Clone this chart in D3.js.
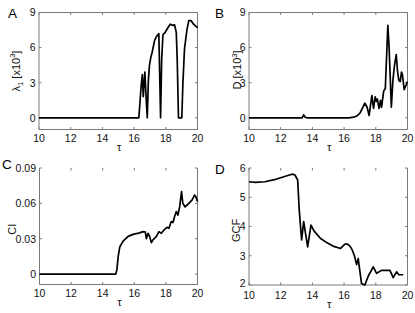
<!DOCTYPE html>
<html><head><meta charset="utf-8">
<script src="https://cdn.jsdelivr.net/npm/d3@7"></script>
<style>body{margin:0;background:#fff}svg{display:block}text{font-family:"Liberation Sans",Arial,sans-serif}</style>
</head><body><svg id="c" width="415" height="313"></svg>
<script>
// ---- data ----
const xTicks = [10, 12, 14, 16, 18, 20];
const lambdaTau = [10, 16.30, 16.45, 16.52, 16.58, 16.68, 16.78, 16.83, 16.90, 16.97, 17.06, 17.14, 17.29, 17.39, 17.56, 17.61, 17.67, 17.74, 17.82, 17.96, 18.13, 18.28, 18.45, 18.55, 18.66, 18.72, 18.80, 19.01, 19.08, 19.18, 19.33, 19.45, 19.60, 19.75, 20.0];
const lambdaVal = [0, 0, 2.8, 3.7, 1.8, 3.9, 1.2, 0, 3.2, 4.5, 5.2, 5.6, 6.6, 6.9, 7.2, 4.0, 0, 5.0, 7.1, 7.3, 7.7, 8.0, 7.9, 7.95, 7.3, 5.0, 0, 0, 3.0, 5.9, 7.5, 8.3, 8.3, 8.0, 7.7];
const dTau = [10, 13.35, 13.45, 13.55, 13.65, 16.3, 16.6, 16.8, 17.0, 17.15, 17.31, 17.45, 17.58, 17.75, 17.86, 17.96, 18.04, 18.10, 18.20, 18.30, 18.36, 18.50, 18.60, 18.76, 18.84, 18.98, 19.08, 19.18, 19.29, 19.37, 19.45, 19.54, 19.62, 19.68, 19.79, 20.0];
const dVal = [0, 0, 0.25, 0.05, 0, 0, 0.05, 0.15, 0.4, 0.8, 1.25, 0.9, 0.2, 1.9, 0.8, 1.8, 1.4, 1.6, 0.8, 1.5, 0.9, 2.3, 2.5, 7.9, 6.0, 0.9, 3.2, 4.5, 5.4, 4.0, 3.2, 3.1, 3.9, 3.7, 2.4, 3.1];
const ciTau = [10, 14.83, 14.90, 14.98, 15.08, 15.29, 15.61, 15.92, 16.34, 16.55, 16.70, 16.76, 16.87, 16.97, 17.08, 17.18, 17.39, 17.56, 17.71, 17.92, 18.07, 18.19, 18.34, 18.45, 18.55, 18.66, 18.76, 18.87, 18.99, 19.07, 19.22, 19.45, 19.66, 19.81, 19.90, 20.0];
const ciVal = [0, 0, 0.004, 0.0148, 0.023, 0.028, 0.032, 0.0337, 0.035, 0.036, 0.0357, 0.030, 0.0346, 0.032, 0.0267, 0.029, 0.0318, 0.036, 0.0346, 0.038, 0.0397, 0.0389, 0.0446, 0.0438, 0.0488, 0.053, 0.05, 0.057, 0.07, 0.06, 0.057, 0.06, 0.063, 0.067, 0.0655, 0.0616];
const gcfTau = [10, 10.4, 11.0, 11.6, 12.2, 12.6, 12.75, 12.9, 13.07, 13.17, 13.32, 13.45, 13.70, 13.91, 14.1, 14.5, 14.9, 15.3, 15.78, 16.05, 16.22, 16.37, 16.51, 16.65, 16.79, 16.89, 17.10, 17.31, 17.52, 17.84, 18.05, 18.36, 18.89, 19.10, 19.31, 19.45, 19.73];
const gcfVal = [5.53, 5.51, 5.53, 5.6, 5.7, 5.77, 5.79, 5.76, 5.59, 4.56, 3.54, 4.17, 3.3, 4.05, 3.85, 3.6, 3.45, 3.33, 3.25, 3.4, 3.4, 3.33, 3.2, 3.0, 2.7, 2.9, 2.05, 2.0, 2.3, 2.62, 2.4, 2.5, 2.5, 2.25, 2.45, 2.35, 2.35];

const panels = [
  {letter: "A", tau: lambdaTau, val: lambdaVal, yDomain: [-1, 9], yTicks: [0, 3, 6, 9], fmt: d => d,
   box: {l: 39, r: 197.5, t: 12.5, b: 129.5}, top: true, ylab: "lambda", labX: 19.5, labDy: 0, xlDy: 0},
  {letter: "B", tau: dTau, val: dVal, yDomain: [-1, 9], yTicks: [0, 3, 6, 9], fmt: d => d,
   box: {l: 249, r: 407.5, t: 12.5, b: 129.5}, top: true, ylab: "D", labX: 241, labDy: -1, xlDy: 0},
  {letter: "C", tau: ciTau, val: ciVal, yDomain: [-0.0088, 0.09], yTicks: [0, 0.03, 0.06, 0.09], fmt: d => d === 0 ? "0" : d.toFixed(2),
   box: {l: 39.5, r: 197.5, t: 168, b: 284.5}, top: false, ylab: "CI", labX: 15.5, labDy: 3, xlDy: 0},
  {letter: "D", tau: gcfTau, val: gcfVal, yDomain: [2, 6], yTicks: [2, 3, 4, 5, 6], fmt: d => d,
   box: {l: 249, r: 407.5, t: 168, b: 285}, top: false, ylab: "GCF", labX: 240, labDy: 4, xlDy: 1.5}
];

const svg = d3.select("#c");
const axisCol = "#7a7a7a";

panels.forEach(p => {
  const B = p.box;
  const x = d3.scaleLinear().domain([10, 20]).range([B.l, B.r]);
  const y = d3.scaleLinear().domain(p.yDomain).range([B.b, B.t]);
  const g = svg.append("g");

  // box
  const bx = g.append("g").attr("fill", "none").attr("stroke", axisCol).attr("stroke-width", 1);
  bx.append("line").attr("x1", B.l).attr("x2", B.l).attr("y1", B.t).attr("y2", B.b);
  bx.append("line").attr("x1", B.r).attr("x2", B.r).attr("y1", B.t).attr("y2", B.b);
  bx.append("line").attr("x1", B.l).attr("x2", B.r).attr("y1", B.b).attr("y2", B.b);
  if (p.top) bx.append("line").attr("x1", B.l).attr("x2", B.r).attr("y1", B.t).attr("y2", B.t);

  // ticks (inward, all four sides)
  xTicks.forEach(t => {
    const xx = x(t);
    bx.append("line").attr("x1", xx).attr("x2", xx).attr("y1", B.b).attr("y2", B.b - 2.5);
    bx.append("line").attr("x1", xx).attr("x2", xx).attr("y1", B.t).attr("y2", B.t + 2.5);
    g.append("text").attr("x", xx).attr("y", B.b + 12 + p.xlDy).attr("text-anchor", "middle")
      .attr("font-size", 10.5).attr("fill", "#111").text(t);
  });
  p.yTicks.forEach((t, i) => {
    const yy = y(t);
    bx.append("line").attr("x1", B.l).attr("x2", B.l + 2.5).attr("y1", yy).attr("y2", yy);
    bx.append("line").attr("x1", B.r).attr("x2", B.r - 2.5).attr("y1", yy).attr("y2", yy);
    const lift = (p.letter === "D" && i === 0) ? -1.5 : 0;
    g.append("text").attr("x", B.l - 3.5).attr("y", yy + 3.8 + lift).attr("text-anchor", "end")
      .attr("font-size", 10.5).attr("fill", "#111").text(p.fmt(t));
  });

  // line
  const pts = p.tau.map((t, i) => [t, p.val[i]]);
  g.append("path").datum(pts)
    .attr("d", d3.line().x(d => x(d[0])).y(d => y(d[1])))
    .attr("fill", "none").attr("stroke", "#000").attr("stroke-width", 1.7)
    .attr("stroke-linejoin", "round");

  // x label
  g.append("text").attr("x", (B.l + B.r) / 2 + 1).attr("y", B.b + 21 + p.xlDy)
    .attr("text-anchor", "middle").attr("font-size", 11).attr("fill", "#111").text("τ");

  // panel letter
  const lp = {A: [8, 18], B: [215, 18], C: [2, 168.5], D: [215, 173.5]}[p.letter];
  g.append("text").attr("x", lp[0]).attr("y", lp[1]).attr("font-size", 13.5).attr("fill", "#000").text(p.letter);

  // y label
  const cy = (B.t + B.b) / 2 + p.labDy;
  const yl = g.append("text").attr("transform", `translate(${p.labX},${cy}) rotate(-90)`)
    .attr("text-anchor", "middle").attr("font-size", 11).attr("fill", "#111");
  if (p.ylab === "lambda") {
    yl.append("tspan").text("λ");
    yl.append("tspan").attr("font-size", 7.5).attr("dy", 3).text("1");
    yl.append("tspan").attr("dy", -3).text(" [x10");
    yl.append("tspan").attr("font-size", 7.5).attr("dy", -4.5).text("3");
    yl.append("tspan").attr("dy", 4.5).text("]");
  } else if (p.ylab === "D") {
    yl.append("tspan").text("D [x10");
    yl.append("tspan").attr("font-size", 7.5).attr("dy", -4.5).text("3");
    yl.append("tspan").attr("dy", 4.5).text("]");
  } else {
    yl.text(p.ylab);
  }
});
</script></body></html>
